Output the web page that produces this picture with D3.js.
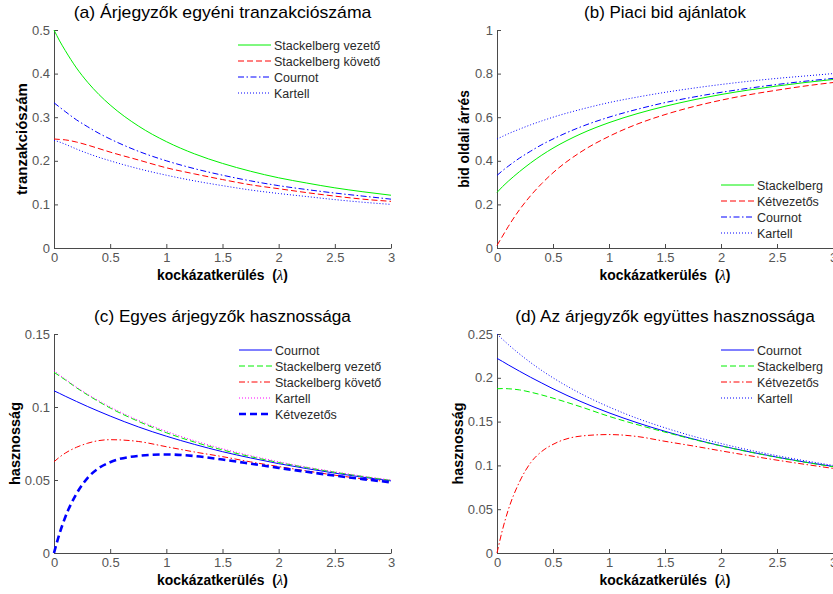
<!DOCTYPE html>
<html>
<head>
<meta charset="utf-8">
<script src="https://cdn.jsdelivr.net/npm/d3@7"></script>
<style>
	body { margin: 0; background: #fff; }
	text { font-family: "Liberation Sans", Arial, sans-serif; }
</style>
</head>
<body>
<div id="chart"></div>
<script>
// kockázatkerülés (lambda) mintapontok
var lambda = [0, 0.05, 0.1, 0.2, 0.3, 0.4, 0.5, 0.75, 1, 1.25, 1.5, 1.75, 2, 2.25, 2.5, 2.75, 3]
var xTicks = [0, 0.5, 1, 1.5, 2, 2.5, 3]

// (a) tranzakciószám
var tradeLeader   = [0.5, 0.475, 0.453, 0.413, 0.380, 0.352, 0.328, 0.280, 0.244, 0.216, 0.194, 0.176, 0.161, 0.149, 0.138, 0.129, 0.121]
var tradeFollower = [0.25, 0.249, 0.248, 0.243, 0.236, 0.228, 0.220, 0.202, 0.184, 0.170, 0.157, 0.145, 0.136, 0.127, 0.119, 0.112, 0.107]
var tradeCournot  = [0.333, 0.323, 0.313, 0.294, 0.278, 0.263, 0.25, 0.222, 0.2, 0.182, 0.167, 0.154, 0.143, 0.134, 0.126, 0.119, 0.112]
var tradeCartel   = [0.247, 0.243, 0.238, 0.227, 0.217, 0.208, 0.2, 0.182, 0.167, 0.154, 0.143, 0.133, 0.125, 0.118, 0.111, 0.105, 0.1]
var yTicksA = [0, 0.1, 0.2, 0.3, 0.4, 0.5]

// (b) bid oldali árrés
var bidStack      = [0.255, 0.282, 0.306, 0.350, 0.390, 0.426, 0.458, 0.524, 0.575, 0.616, 0.650, 0.679, 0.704, 0.725, 0.743, 0.759, 0.773]
var bidTwoLeaders = [0.012, 0.055, 0.098, 0.175, 0.240, 0.296, 0.345, 0.441, 0.512, 0.568, 0.612, 0.648, 0.678, 0.703, 0.724, 0.743, 0.759]
var bidCournot    = [0.333, 0.355, 0.375, 0.412, 0.444, 0.474, 0.5, 0.556, 0.6, 0.636, 0.667, 0.692, 0.714, 0.733, 0.75, 0.765, 0.778]
var bidCartel     = [0.5, 0.512, 0.524, 0.545, 0.565, 0.583, 0.6, 0.636, 0.667, 0.692, 0.714, 0.733, 0.75, 0.765, 0.778, 0.789, 0.8]
var yTicksB = [0, 0.2, 0.4, 0.6, 0.8, 1]

// (c) egyes árjegyzők hasznossága
var utilCournot    = [0.1111, 0.1093, 0.1074, 0.1038, 0.1003, 0.0970, 0.0938, 0.0864, 0.08, 0.0744, 0.0694, 0.0651, 0.0612, 0.0578, 0.0547, 0.0519, 0.0494]
var utilLeader     = [0.1238, 0.1212, 0.1186, 0.1132, 0.1082, 0.1036, 0.0993, 0.0902, 0.0824, 0.0760, 0.0706, 0.0660, 0.0620, 0.0585, 0.0553, 0.0524, 0.0497]
var utilFollower   = [0.0625, 0.0657, 0.0684, 0.0724, 0.0752, 0.0770, 0.0776, 0.0764, 0.0728, 0.0692, 0.0660, 0.0624, 0.0592, 0.0562, 0.0533, 0.0508, 0.0486]
var utilCartel     = [0.125, 0.1219, 0.1191, 0.1136, 0.1087, 0.1042, 0.1, 0.0909, 0.0833, 0.0769, 0.0714, 0.0667, 0.0625, 0.0588, 0.0556, 0.0526, 0.05]
var utilTwoLeaders = [0, 0.0135, 0.0245, 0.0406, 0.0515, 0.0582, 0.0622, 0.0665, 0.0675, 0.0664, 0.0640, 0.0612, 0.0583, 0.0556, 0.0530, 0.0506, 0.0484]
var yTicksC = [0, 0.05, 0.1, 0.15]

// (d) együttes hasznosság
var totCournot    = [0.2222, 0.2186, 0.2148, 0.2076, 0.2006, 0.1940, 0.1875, 0.1728, 0.16, 0.1488, 0.1389, 0.1302, 0.1224, 0.1156, 0.1094, 0.1038, 0.0988]
var totStack      = [0.1875, 0.1877, 0.1875, 0.1862, 0.1836, 0.1804, 0.1768, 0.1668, 0.1560, 0.1466, 0.1380, 0.1298, 0.1222, 0.1154, 0.1092, 0.1036, 0.0985]
var totTwoLeaders = [0, 0.027, 0.049, 0.081, 0.103, 0.116, 0.124, 0.1335, 0.1352, 0.1330, 0.1275, 0.1222, 0.1166, 0.1112, 0.1060, 0.1012, 0.0966]
var totCartel     = [0.25, 0.2439, 0.2381, 0.2273, 0.2174, 0.2083, 0.2, 0.1818, 0.1667, 0.1538, 0.1429, 0.1333, 0.125, 0.1176, 0.1111, 0.1053, 0.1]
var yTicksD = [0, 0.05, 0.1, 0.15, 0.2, 0.25]

// vonalstílusok
var solid = null, dashed = "6,3", dashDot = "6,2.5,1.5,2.5", dotted = "1,2"
var GREEN = "#00f000", RED = "#ff0000", BLUE = "#0000ff", MAGENTA = "#ff00ff"

// a kép vízszintesen nyújtott, ezért a szövegek szélességét a mért értékre igazítjuk
var panels = [
	{
		title: "(a) Árjegyzők egyéni tranzakciószáma", titleW: 298, ylabel: "tranzakciószám", ylabW: 112,
		left: 54, right: 391, top: 30, bottom: 248, yMax: 0.5, yTicks: yTicksA,
		titleY: 18, ylabX: 27, xlabY: 280, legX: 238, legY: 45,
		series: [
			{name: "Stackelberg vezető", values: tradeLeader, color: GREEN, dash: solid},
			{name: "Stackelberg követő", values: tradeFollower, color: RED, dash: dashed},
			{name: "Cournot", values: tradeCournot, color: BLUE, dash: dashDot},
			{name: "Kartell", values: tradeCartel, color: BLUE, dash: dotted}
		]
	},
	{
		title: "(b) Piaci bid ajánlatok", titleW: 163, ylabel: "bid oldali árrés", ylabW: 98,
		left: 497, right: 833, top: 30, bottom: 248, yMax: 1, yTicks: yTicksB,
		titleY: 18, ylabX: 469, xlabY: 280, legX: 721, legY: 185,
		series: [
			{name: "Stackelberg", values: bidStack, color: GREEN, dash: solid},
			{name: "Kétvezetős", values: bidTwoLeaders, color: RED, dash: dashed},
			{name: "Cournot", values: bidCournot, color: BLUE, dash: dashDot},
			{name: "Kartell", values: bidCartel, color: BLUE, dash: dotted}
		]
	},
	{
		title: "(c) Egyes árjegyzők hasznossága", titleW: 257, ylabel: "hasznosság", ylabW: 83,
		left: 54, right: 391, top: 334, bottom: 553, yMax: 0.15, yTicks: yTicksC,
		titleY: 322, ylabX: 20, xlabY: 585, legX: 239, legY: 350,
		series: [
			{name: "Cournot", values: utilCournot, color: BLUE, dash: solid},
			{name: "Stackelberg vezető", values: utilLeader, color: GREEN, dash: dashed},
			{name: "Stackelberg követő", values: utilFollower, color: RED, dash: dashDot},
			{name: "Kartell", values: utilCartel, color: MAGENTA, dash: dotted},
			{name: "Kétvezetős", values: utilTwoLeaders, color: BLUE, dash: "7,4", width: 2.6}
		]
	},
	{
		title: "(d) Az árjegyzők együttes hasznossága", titleW: 300, ylabel: "hasznosság", ylabW: 82,
		left: 497, right: 833, top: 334, bottom: 553, yMax: 0.25, yTicks: yTicksD,
		titleY: 322, ylabX: 463, xlabY: 585, legX: 721, legY: 350,
		series: [
			{name: "Cournot", values: totCournot, color: BLUE, dash: solid},
			{name: "Stackelberg", values: totStack, color: GREEN, dash: dashed},
			{name: "Kétvezetős", values: totTwoLeaders, color: RED, dash: dashDot},
			{name: "Kartell", values: totCartel, color: BLUE, dash: dotted}
		]
	}
]

var svg = d3.select("#chart").append("svg")
	.attr("width", 833)
	.attr("height", 594)

svg.append("rect").attr("width", 833).attr("height", 594).attr("fill", "#fff")

var fmt = d => String(+d.toFixed(2))

// szöveg elhelyezése (x,y)-ban, adott szélességre nyújtva
function placeText(sel, x, y, width, rot){
	let w = sel.node().getBBox().width
	let sx = width ? width / w : 1
	sel.attr("transform", `translate(${x},${y})${rot ? " rotate(" + rot + ")" : ""} scale(${sx},1)`)
}

panels.forEach(p => {
	let x = d3.scaleLinear().domain([0, 3]).range([p.left, p.right])
	let y = d3.scaleLinear().domain([0, p.yMax]).range([p.bottom, p.top])
	let g = svg.append("g")

	// tengelyek
	let xAxis = d3.axisBottom(x).tickValues(xTicks).tickFormat(fmt)
		.tickSizeInner(-4).tickSizeOuter(0).tickPadding(4.5)
	let yAxis = d3.axisLeft(y).tickValues(p.yTicks).tickFormat(fmt)
		.tickSizeInner(-4).tickSizeOuter(0).tickPadding(4)

	g.append("g").attr("transform", `translate(0,${p.bottom})`).call(xAxis)
	g.append("g").attr("transform", `translate(${p.left},0)`).call(yAxis)

	g.selectAll(".domain, .tick line").attr("stroke", "#4a4a4a")
	g.selectAll(".tick text")
		.attr("fill", "#555")
		.style("font-size", "13px")
		.style("font-family", "'Liberation Sans', Arial, sans-serif")

	// görbék
	let line = vals => d3.line()
		.x((d, i) => x(lambda[i]))
		.y(d => y(d))
		.curve(d3.curveMonotoneX)(vals)

	p.series.forEach(s => {
		g.append("path")
			.attr("d", line(s.values))
			.attr("fill", "none")
			.attr("stroke", s.color)
			.attr("stroke-width", s.width || 1)
			.attr("stroke-dasharray", s.dash)
	})

	// cím és feliratok
	let cx = (p.left + p.right) / 2
	let title = g.append("text")
		.attr("text-anchor", "middle")
		.style("font-size", "16px")
		.text(p.title)
	placeText(title, cx, p.titleY, p.titleW)

	let xl = g.append("text")
		.attr("text-anchor", "middle")
		.style("font-size", "14px")
		.style("font-weight", "bold")
	xl.append("tspan").text("kockázatkerülés\u00a0 (")
	xl.append("tspan")
		.style("font-family", "'Liberation Serif', serif")
		.style("font-style", "italic")
		.style("font-weight", "normal")
		.style("font-size", "15px")
		.text("λ")
	xl.append("tspan").text(")")
	placeText(xl, cx, p.xlabY, 131)

	let yl = g.append("text")
		.attr("text-anchor", "middle")
		.style("font-size", "14px")
		.style("font-weight", "bold")
		.text(p.ylabel)
	placeText(yl, p.ylabX, (p.top + p.bottom) / 2, p.ylabW, -90)

	// jelmagyarázat
	let leg = g.append("g")
	p.series.forEach((s, i) => {
		let ly = p.legY + i * 16
		leg.append("line")
			.attr("x1", p.legX).attr("x2", p.legX + 33)
			.attr("y1", ly).attr("y2", ly)
			.attr("stroke", s.color)
			.attr("stroke-width", s.width || 1)
			.attr("stroke-dasharray", s.dash)
		leg.append("text")
			.attr("x", p.legX + 36).attr("y", ly + 4.5)
			.attr("fill", "#2a2a2a")
			.style("font-size", "12.5px")
			.text(s.name)
	})
})
</script>
</body>
</html>
